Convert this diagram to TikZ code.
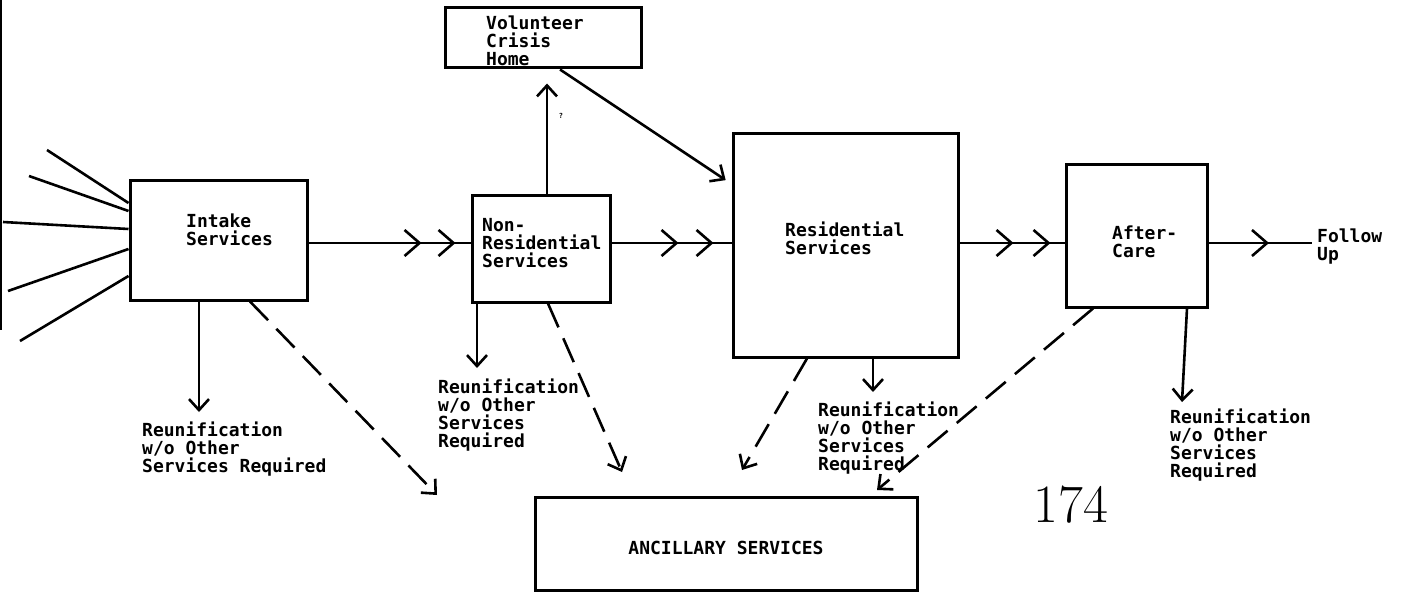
\documentclass[tikz,border=0pt]{standalone}
\usepackage{fontspec}
\newfontfamily\tw{DejaVu Sans Mono}
\usetikzlibrary{arrows.meta,decorations.markings}
\tikzset{
  chevtip/.tip={Straight Barb[length=15pt,width=26pt]},
  smtip/.tip={Straight Barb[length=11pt,width=20pt]},
}
\begin{document}
\begin{tikzpicture}[x=1pt,y=-1pt,
  box/.style={draw,line width=3pt,inner sep=0pt},
  lbl/.style={font=\tw\bfseries\fontsize{18}{18}\selectfont,align=left,inner sep=0pt,anchor=north west},
  conn/.style={line width=2.6pt},
  tipa/.style={-smtip},
  dsh/.style={dash pattern=on 26pt off 12pt},
]
\useasboundingbox (0,0) rectangle (1401,594);

% scan edge
\draw[line width=1.6pt] (1,0) -- (1,330);

% boxes
\node[box,minimum width=177pt,minimum height=120pt] (intake) at (218.5,240) {};
\node[box,minimum width=138pt,minimum height=107pt] (nonres) at (541,248.5) {};
\node[box,minimum width=196pt,minimum height=60pt] (vol) at (543,38) {};
\node[box,minimum width=225pt,minimum height=224pt] (res) at (845.5,245) {};
\node[box,minimum width=141pt,minimum height=143pt] (after) at (1137,235.5) {};
\node[box,minimum width=382pt,minimum height=93pt] (anc) at (726,543.5) {};

% box texts
\node[lbl] (intakeT) at (186,213.5) {Intake\\Services};
\node[lbl] (nonresT) at (482,218.5) {Non-\\Residential\\Services};
\node[lbl] (volT) at (486,15.5) {Volunteer\\Crisis\\Home};
\node[lbl] (resT) at (785,221.5) {Residential\\Services};
\node[lbl] (afterT) at (1112,225.5) {After-\\Care};
\node[lbl] (follow) at (1317,228.5) {Follow\\Up};
\node[lbl,anchor=center] (ancT) at (726,548) {ANCILLARY SERVICES};

% outcome labels
\node[lbl] (r1) at (142,421.5) {Reunification\\w/o Other\\Services Required};
\node[lbl] (r2) at (438,378.5) {Reunification\\w/o Other\\Services\\Required};
\node[lbl] (r3) at (818,401.5) {Reunification\\w/o Other\\Services\\Required};
\node[lbl] (r4) at (1170,408.5) {Reunification\\w/o Other\\Services\\Required};

\node[font=\tw\bfseries\fontsize{7}{7}\selectfont,inner sep=0pt] (q) at (561,116) {?};
\node[font=\fontsize{54}{54}\selectfont,inner sep=0pt] (pg) at (1071,505) {174};

% fan of incoming lines
\coordinate (f1) at (47,150);  \coordinate (g1) at (0,203);
\coordinate (f2) at (29,176);  \coordinate (g2) at (0,211);
\coordinate (f3) at (3,222);   \coordinate (g3) at (0,229);
\coordinate (f4) at (8,291);   \coordinate (g4) at (0,249);
\coordinate (f5) at (20,341);  \coordinate (g5) at (0,276);
\foreach \i in {1,...,5} \draw[conn] (f\i) -- (intake.west |- g\i);

% main flow
\coordinate (m) at (0,243);
\draw[conn,postaction={decorate},decoration={markings,
   mark=at position 113pt with {\arrow{chevtip}},
   mark=at position 147pt with {\arrow{chevtip}}}]
   (intake.east |- m) -- (nonres.west |- m);
\draw[conn,postaction={decorate},decoration={markings,
   mark=at position 67pt with {\arrow{chevtip}},
   mark=at position 102pt with {\arrow{chevtip}}}]
   (nonres.east |- m) -- (res.west |- m);
\draw[conn,postaction={decorate},decoration={markings,
   mark=at position 54pt with {\arrow{chevtip}},
   mark=at position 91pt with {\arrow{chevtip}}}]
   (res.east |- m) -- (after.west |- m);
\coordinate (fu) at (1312,243);
\draw[conn,postaction={decorate},decoration={markings,
   mark=at position 60pt with {\arrow{chevtip}}}]
   (after.east |- m) -- (fu);

% volunteer crisis home
\coordinate (xv) at (547,0);
\draw[conn,tipa,shorten >=14pt] (nonres.north -| xv) -- (vol.south -| xv);
\coordinate (xv2) at (560,0); \coordinate (yr) at (0,184);
\draw[conn,tipa,shorten >=7pt] (vol.south -| xv2) -- (res.west |- yr);

% downward outcomes
\coordinate (x1) at (199,0);  \coordinate (e1) at (199,412);
\draw[conn,tipa] (intake.south -| x1) -- (e1);
\coordinate (x2) at (477,0);  \coordinate (e2) at (477,368);
\draw[conn,tipa] (nonres.south -| x2) -- (e2);
\coordinate (x3) at (873,0);  \coordinate (e3) at (873,392);
\draw[conn,tipa] (res.south -| x3) -- (e3);
\coordinate (x4) at (1187,0); \coordinate (e4) at (1182,402);
\draw[conn,tipa] (after.south -| x4) -- (e4);

% dashed links to ancillary services
\coordinate (d1) at (250,0);  \coordinate (a1) at (437,495);
\draw[conn,tipa,dsh] (intake.south -| d1) -- (a1);
\coordinate (d2) at (548,0);  \coordinate (a2) at (622,472);
\draw[conn,tipa,dsh] (nonres.south -| d2) -- (a2);
\coordinate (d3) at (807,0);  \coordinate (a3) at (742,470);
\draw[conn,tipa,dsh] (res.south -| d3) -- (a3);
\coordinate (d4) at (1093,0); \coordinate (a4) at (877,490);
\draw[conn,tipa,dsh] (after.south -| d4) -- (a4);
\end{tikzpicture}
\end{document}
